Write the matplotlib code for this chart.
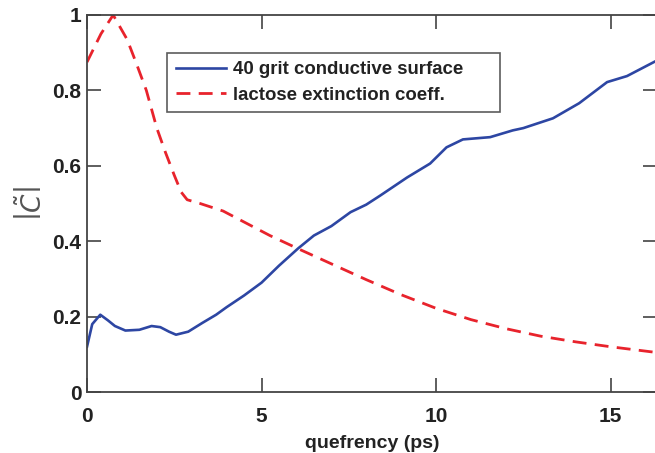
import matplotlib
matplotlib.use("Agg")
import matplotlib.pyplot as plt

# data
grit_x = [0, 0.15, 0.38, 0.6, 0.8, 1.1, 1.5, 1.85, 2.1, 2.35, 2.55, 2.9, 3.3, 3.7,
          4.0, 4.5, 5.0, 5.5, 6.05, 6.5, 7.0, 7.55, 8.0, 8.4, 9.17, 9.83, 10.3,
          10.77, 11.55, 12.2, 12.5, 13.35, 14.1, 14.9, 15.47, 16.3]
grit_y = [0.12, 0.18, 0.205, 0.19, 0.175, 0.163, 0.165, 0.175, 0.172, 0.16, 0.152,
          0.16, 0.183, 0.205, 0.225, 0.256, 0.29, 0.335, 0.381, 0.415, 0.44, 0.477,
          0.497, 0.521, 0.569, 0.606, 0.649, 0.67, 0.676, 0.694, 0.70, 0.726, 0.766,
          0.822, 0.838, 0.878]

lact_x = [0, 0.4, 0.75, 1.15, 1.4, 1.7, 2.0, 2.25, 2.5, 2.7, 2.87, 3.24, 3.9,
          5.24, 6.05, 7, 8, 9, 10, 11, 12, 13, 14, 15, 16.3]
lact_y = [0.875, 0.95, 1.0, 0.935, 0.875, 0.80, 0.70, 0.635, 0.575, 0.53, 0.51, 0.50,
          0.48, 0.415, 0.38, 0.34, 0.298, 0.258, 0.222, 0.192, 0.168, 0.148, 0.133,
          0.12, 0.105]

xticks = [0, 5, 10, 15]
yticks = [0, 0.2, 0.4, 0.6, 0.8, 1]
ytick_labels = ["0", "0.2", "0.4", "0.6", "0.8", "1"]

plt.rcParams['font.family'] = ['Liberation Sans', 'DejaVu Sans']

fig = plt.figure(figsize=(6.55, 4.53), dpi=100)
ax = fig.add_axes([87/655, 1 - 392/453, 570/655, 377/453])

ax.plot(grit_x, grit_y, color='#2d46a3', lw=1.9, label='40 grit conductive surface')
ax.plot(lact_x, lact_y, color='#e8232c', lw=2.0, dashes=(5, 3),
        label='lactose extinction coeff.')

ax.set_xlim(0, 16.33)
ax.set_ylim(0, 1)
ax.set_xticks(xticks)
ax.set_yticks(yticks)
ax.set_yticklabels(ytick_labels)
ax.tick_params(direction='in', length=10, width=1.1, color='#333333',
               labelsize=15, top=True, right=True, labelcolor='#222222')
ax.tick_params(axis='x', pad=11)
ax.tick_params(axis='y', pad=4)
for lab in ax.get_xticklabels() + ax.get_yticklabels():
    lab.set_fontweight('bold')
for s in ax.spines.values():
    s.set_color('#444444')
    s.set_linewidth(1.3)

ax.set_xlabel('quefrency (ps)', fontsize=14, fontweight='bold', labelpad=6,
              color='#222222')
ax.set_ylabel(r'$\left|\tilde{C}\right|$', fontsize=19, color='#555555')
ax.yaxis.set_label_coords(-0.07, 0.5)

leg = ax.legend(loc='upper left', bbox_to_anchor=(0.141, 0.74, 0.583, 0.159),
                mode='expand', fontsize=13.4, frameon=True, fancybox=False,
                handlelength=2.7, handletextpad=0.4, borderpad=0.45,
                labelspacing=0.45, borderaxespad=0)
leg.get_frame().set_edgecolor('#333333')
leg.get_frame().set_linewidth(1.2)
for t in leg.get_texts():
    t.set_fontweight('bold')
    t.set_color('#222222')

fig.savefig('out.png', dpi=100)
